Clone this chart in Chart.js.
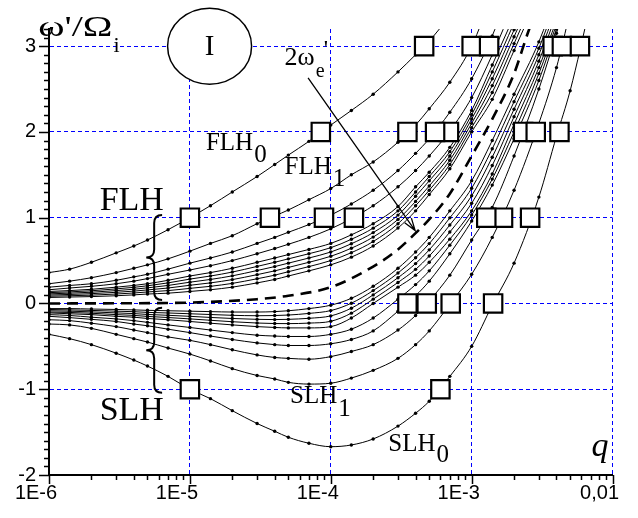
<!DOCTYPE html>
<html>
<head>
<meta charset="utf-8">
<script src="https://cdn.jsdelivr.net/npm/chart.js@4.4.1/dist/chart.umd.min.js"></script>
<style>
  html, body { margin: 0; padding: 0; background: #fff; }
  canvas { display: block; }
</style>
</head>
<body>
<canvas id="dispersionChart" width="638" height="518"></canvas>
<script>
// q values where every curve was sampled (dots on the curves)
const q = [1e-6, 1.4e-6, 2e-6, 3e-6, 4e-6, 5e-6, 7e-6,
           1e-5, 1.4e-5, 2e-5, 3e-5, 4e-5, 5e-5, 7e-5,
           1e-4, 1.4e-4, 2e-4, 3e-4, 4e-4, 5e-4, 7e-4,
           1e-3, 1.4e-3, 2e-3, 3e-3, 4e-3, 5e-3, 7e-3];

// fast lower hybrid branches
const flh0 = [0.36, 0.40, 0.48, 0.59, 0.67, 0.74, 0.86, 1.00, 1.14, 1.30, 1.48, 1.62, 1.73, 1.89, 2.08, 2.25, 2.44, 2.70, 2.90, 3.06, 3.35];
const flh1 = [0.23, 0.26, 0.30, 0.36, 0.41, 0.45, 0.52, 0.61, 0.70, 0.79, 0.93, 1.02, 1.09, 1.21, 1.34, 1.50, 1.65, 1.88, 2.08, 2.27, 2.58, 3.00, 3.60];
const flh2 = [0.19, 0.21, 0.23, 0.27, 0.31, 0.34, 0.40, 0.47, 0.53, 0.60, 0.70, 0.77, 0.83, 0.92, 1.03, 1.16, 1.32, 1.55, 1.75, 1.92, 2.23, 2.62, 3.12, 3.80];
const flh3 = [0.16, 0.18, 0.20, 0.23, 0.26, 0.29, 0.34, 0.39, 0.44, 0.50, 0.58, 0.64, 0.69, 0.77, 0.87, 0.99, 1.14, 1.36, 1.55, 1.72, 2.01, 2.40, 2.90, 3.50];
const flh4 = [0.14, 0.15, 0.165, 0.19, 0.21, 0.23, 0.27, 0.32, 0.36, 0.41, 0.48, 0.53, 0.57, 0.63, 0.70, 0.80, 0.93, 1.13, 1.36, 1.53, 1.82, 2.25, 2.78, 3.35, 4.00];
const flh5 = [0.126, 0.135, 0.148, 0.17, 0.188, 0.206, 0.24, 0.284, 0.32, 0.366, 0.432, 0.48, 0.52, 0.58, 0.65, 0.748, 0.878, 1.08, 1.30, 1.48, 1.77, 2.20, 2.70, 3.27, 3.92];
const flh6 = [0.112, 0.12, 0.131, 0.15, 0.166, 0.182, 0.21, 0.248, 0.28, 0.322, 0.384, 0.43, 0.47, 0.53, 0.60, 0.696, 0.826, 1.03, 1.25, 1.43, 1.72, 2.15, 2.62, 3.19, 3.84];
const flh7 = [0.098, 0.105, 0.114, 0.13, 0.144, 0.158, 0.18, 0.212, 0.24, 0.278, 0.336, 0.38, 0.42, 0.48, 0.55, 0.644, 0.774, 0.98, 1.19, 1.37, 1.67, 2.10, 2.54, 3.11, 3.76];
const flh8 = [0.084, 0.09, 0.097, 0.11, 0.122, 0.134, 0.15, 0.176, 0.20, 0.234, 0.288, 0.33, 0.37, 0.43, 0.50, 0.592, 0.722, 0.93, 1.14, 1.32, 1.62, 2.05, 2.46, 3.03, 3.68];
const flh9 = [0.07, 0.075, 0.08, 0.09, 0.10, 0.11, 0.12, 0.14, 0.16, 0.19, 0.24, 0.28, 0.32, 0.38, 0.45, 0.54, 0.67, 0.88, 1.08, 1.27, 1.57, 2.00, 2.38, 2.95, 3.60];

// slow lower hybrid branches
const slh0 = [-0.36, -0.41, -0.48, -0.58, -0.66, -0.73, -0.85, -1.00, -1.11, -1.25, -1.40, -1.49, -1.56, -1.63, -1.67, -1.65, -1.58, -1.43, -1.28, -1.14, -0.85, -0.50, -0.02, 0.47, 1.24, 1.95, 2.48, 3.50];
const slh1 = [-0.24, -0.25, -0.29, -0.36, -0.41, -0.45, -0.52, -0.59, -0.67, -0.76, -0.84, -0.88, -0.92, -0.94, -0.93, -0.87, -0.78, -0.64, -0.48, -0.32, -0.01, 0.34, 0.77, 1.32, 2.10, 2.75, 3.40];
const slh2 = [-0.19, -0.20, -0.23, -0.27, -0.31, -0.34, -0.39, -0.43, -0.48, -0.54, -0.60, -0.63, -0.64, -0.65, -0.62, -0.56, -0.48, -0.31, -0.14, 0.03, 0.33, 0.74, 1.12, 1.72, 2.50, 3.15, 3.70];
const slh3 = [-0.15, -0.165, -0.185, -0.21, -0.24, -0.26, -0.30, -0.34, -0.38, -0.42, -0.46, -0.48, -0.49, -0.49, -0.47, -0.42, -0.32, -0.09, 0.09, 0.26, 0.58, 0.96, 1.38, 1.92, 2.60, 3.20];
const slh4 = [-0.13, -0.14, -0.16, -0.18, -0.20, -0.22, -0.25, -0.28, -0.31, -0.34, -0.37, -0.38, -0.385, -0.385, -0.36, -0.30, -0.17, 0.05, 0.22, 0.38, 0.68, 1.03, 1.45, 2.00, 2.68, 3.25];
const slh5 = [-0.11, -0.12, -0.13, -0.15, -0.16, -0.175, -0.19, -0.21, -0.23, -0.25, -0.27, -0.28, -0.285, -0.285, -0.27, -0.17, 0.00, 0.19, 0.33, 0.48, 0.75, 1.08, 1.51, 2.09, 2.75, 3.30];
const slh6 = [-0.10, -0.105, -0.114, -0.13, -0.139, -0.151, -0.164, -0.18, -0.196, -0.213, -0.228, -0.234, -0.235, -0.229, -0.208, -0.113, 0.05, 0.245, 0.398, 0.553, 0.833, 1.168, 1.608, 2.178, 2.825, 3.375];
const slh7 = [-0.085, -0.09, -0.098, -0.11, -0.118, -0.128, -0.138, -0.15, -0.163, -0.175, -0.185, -0.188, -0.185, -0.173, -0.145, -0.055, 0.10, 0.30, 0.465, 0.625, 0.915, 1.255, 1.705, 2.265, 2.90, 3.45];
const slh8 = [-0.07, -0.075, -0.081, -0.09, -0.096, -0.104, -0.111, -0.12, -0.129, -0.138, -0.143, -0.141, -0.135, -0.116, -0.083, 0.003, 0.15, 0.355, 0.533, 0.698, 0.998, 1.343, 1.803, 2.353, 2.975, 3.525];
const slh9 = [-0.06, -0.06, -0.065, -0.07, -0.075, -0.08, -0.085, -0.09, -0.095, -0.10, -0.10, -0.095, -0.085, -0.06, -0.02, 0.06, 0.20, 0.41, 0.60, 0.77, 1.08, 1.43, 1.90, 2.44, 3.05, 3.60];

// 2 omega_e' (dashed)
const qDash = [1e-6, 3e-6, 1e-5, 3e-5, 5e-5, 1e-4, 2e-4, 3e-4, 4e-4, 5e-4, 7e-4, 1e-3, 1.4e-3, 2e-3, 2.5e-3, 3e-3];
const yDash = [0, 0.002, 0.01, 0.05, 0.09, 0.19, 0.43, 0.63, 0.82, 0.98, 1.28, 1.72, 2.15, 2.68, 3.15, 3.5];

// integer crossings marked with squares
const squareQ = [4.6e-4, 1.0e-3, 1.33e-3, 3.76e-3, 4.37e-3, 5.87e-3,
                 8.5e-5, 3.5e-4, 6.9e-4, 5.5e-4, 2.32e-3, 2.85e-3, 4.2e-3,
                 1e-5, 3.7e-5, 8.95e-5, 1.46e-4, 1.67e-3, 1.27e-3, 2.6e-3,
                 3.5e-4, 4.8e-4, 7.1e-4, 1.42e-3,
                 1e-5, 6.0e-4];
const squareY = [3, 3, 3, 3, 3, 3,
                 2, 2, 2, 2, 2, 2, 2,
                 1, 1, 1, 1, 1, 1, 1,
                 0, 0, 0, 0,
                 -1, -1];

const xTickValues = [1e-6, 1e-5, 1e-4, 1e-3, 1e-2];
const xTickLabels = ['1E-6', '1E-5', '1E-4', '1E-3', '0,01'];
const yTickValues = [-2, -1, 0, 1, 2, 3];
const yTickLabels = ['-2', '-1', '0', '1', '2', '3'];

const serif = '"Liberation Serif", "Times New Roman", serif';
const sans = '"Liberation Sans", Arial, sans-serif';

const toPoints = (xs, ys) => ys
  .map((y, i) => ({ x: xs[i], y: y }))
  .filter(p => p.y !== null && p.y !== undefined);

const curves = [flh0, flh1, flh2, flh3, flh4, flh5, flh6, flh7, flh8, flh9,
                slh0, slh1, slh2, slh3, slh4, slh5, slh6, slh7, slh8, slh9];

const datasets = [];
// squares first so they sit on top of the lines
datasets.push({
  data: toPoints(squareQ, squareY),
  showLine: false,
  pointStyle: 'rect',
  pointRadius: 13,
  pointBackgroundColor: '#fff',
  pointBorderColor: '#000',
  pointBorderWidth: 2.2
});
datasets.push({
  data: toPoints(qDash, yDash),
  showLine: true,
  borderColor: '#000',
  borderWidth: 2.6,
  borderDash: [11, 7],
  pointRadius: 0,
  cubicInterpolationMode: 'monotone'
});
curves.forEach(c => {
  datasets.push({
    data: toPoints(q, c),
    showLine: true,
    borderColor: '#000',
    borderWidth: 1,
    pointRadius: 1.7,
    pointBackgroundColor: '#000',
    pointBorderWidth: 0,
    cubicInterpolationMode: 'monotone'
  });
});

// minor / major tick marks pointing outwards
const axisTicks = {
  id: 'axisTicks',
  afterDraw(chart) {
    const { ctx, chartArea, scales: { x, y } } = chart;
    ctx.save();
    ctx.strokeStyle = '#000';
    ctx.lineWidth = 1.5;
    ctx.beginPath();
    for (let k = -20; k <= 32; k++) {
      const py = Math.round(y.getPixelForValue(k / 10)) + 0.5;
      const len = k % 10 === 0 ? 10 : 5;
      ctx.moveTo(chartArea.left, py);
      ctx.lineTo(chartArea.left - len, py);
    }
    for (let e = -6; e <= -2; e++) {
      for (let m = 1; m <= 9; m++) {
        const v = m * Math.pow(10, e);
        if (v > 1.0001e-2) break;
        const px = Math.round(x.getPixelForValue(v)) + 0.5;
        const len = m === 1 ? 9 : 5;
        ctx.moveTo(px, chartArea.bottom);
        ctx.lineTo(px, chartArea.bottom + len);
      }
    }
    ctx.stroke();
    ctx.restore();
  }
};

function label(ctx, x, y, main, sub, size, subDy, style) {
  ctx.font = (style || '') + ' ' + size + 'px ' + serif;
  ctx.textAlign = 'left';
  ctx.textBaseline = 'middle';
  ctx.fillText(main, x, y);
  if (sub) {
    const w = ctx.measureText(main).width;
    ctx.fillText(sub, x + w + 1, y + subDy);
  }
}

function brace(ctx, xTip, xEnd, yTop, yBot) {
  const xm = (xTip + xEnd) / 2;
  const ym = (yTop + yBot) / 2;
  const r = 8;
  ctx.beginPath();
  ctx.moveTo(xEnd, yTop);
  ctx.quadraticCurveTo(xm, yTop, xm, yTop + r);
  ctx.lineTo(xm, ym - r);
  ctx.quadraticCurveTo(xm, ym, xTip, ym);
  ctx.quadraticCurveTo(xm, ym, xm, ym + r);
  ctx.lineTo(xm, yBot - r);
  ctx.quadraticCurveTo(xm, yBot, xEnd, yBot);
  ctx.stroke();
}

const annotations = {
  id: 'annotations',
  afterDatasetsDraw(chart) {
    const { ctx, scales: { x, y } } = chart;
    const X = v => x.getPixelForValue(v);
    const Y = v => y.getPixelForValue(v);
    ctx.save();
    ctx.fillStyle = '#000';
    ctx.strokeStyle = '#000';

    // axis title, the original glyphs are wide so stretch it a little
    const tx = X(8.4e-7), ty = Y(3.215);
    ctx.save();
    ctx.translate(tx, ty);
    ctx.scale(1.33, 1);
    ctx.font = '30px ' + serif;
    ctx.textAlign = 'left';
    ctx.textBaseline = 'middle';
    ctx.fillText("ω'/Ω", 0, 0);
    const tw = ctx.measureText("ω'/Ω").width * 1.33;
    ctx.restore();
    ctx.font = '22px ' + serif;
    ctx.textBaseline = 'middle';
    ctx.fillText('i', tx + tw + 1, ty + 19);

    // case marker
    ctx.lineWidth = 1.5;
    ctx.beginPath();
    ctx.ellipse(X(1.38e-5), Y(3.0), 42, 38, 0, 0, Math.PI * 2);
    ctx.fillStyle = '#fff';
    ctx.fill();
    ctx.stroke();
    ctx.fillStyle = '#000';
    ctx.font = '29px ' + serif;
    ctx.textAlign = 'center';
    ctx.fillText('I', X(1.38e-5), Y(3.0) + 1);

    // 2 omega_e' label and arrow
    const lx = X(4.7e-5), ly = Y(2.86);
    label(ctx, lx, ly, '2ω', null, 26);
    ctx.font = '26px ' + serif;
    const w2 = ctx.measureText('2ω').width;
    ctx.font = '20px ' + serif;
    ctx.fillText('e', lx + w2 + 1, ly + 14);
    ctx.font = '24px ' + serif;
    ctx.fillText("'", lx + w2 + 9, ly - 8);

    const ax0 = X(6.9e-5), ay0 = Y(2.63), ax1 = X(3.97e-4), ay1 = Y(0.85);
    ctx.lineWidth = 1.3;
    ctx.beginPath();
    ctx.moveTo(ax0, ay0);
    ctx.lineTo(ax1, ay1);
    const ang = Math.atan2(ay1 - ay0, ax1 - ax0);
    const hl = 13;
    ctx.moveTo(ax1 - hl * Math.cos(ang - 0.32), ay1 - hl * Math.sin(ang - 0.32));
    ctx.lineTo(ax1, ay1);
    ctx.lineTo(ax1 - hl * Math.cos(ang + 0.32), ay1 - hl * Math.sin(ang + 0.32));
    ctx.stroke();

    // branch labels
    label(ctx, X(1.3e-5), Y(1.87), 'FLH', '0', 25, 12);
    label(ctx, X(4.7e-5), Y(1.585), 'FLH', '1', 25, 12);
    label(ctx, X(5.14e-5), Y(-1.08), 'SLH', '1', 25, 13);
    label(ctx, X(2.56e-4), Y(-1.64), 'SLH', '0', 25, 11);
    label(ctx, X(2.29e-6), Y(1.19), 'FLH', null, 34);
    label(ctx, X(2.29e-6), Y(-1.26), 'SLH', null, 34);
    label(ctx, X(7.1e-3), Y(-1.67), 'q', null, 34, 0, 'italic');

    // braces
    ctx.lineWidth = 2;
    brace(ctx, X(4.9e-6), X(6.35e-6), Y(1.03), Y(0.04));
    brace(ctx, X(4.9e-6), X(6.35e-6), Y(-0.05), Y(-1.04));
    ctx.restore();
  }
};

new Chart(document.getElementById('dispersionChart'), {
  type: 'scatter',
  data: { datasets: datasets },
  options: {
    responsive: false,
    animation: false,
    events: [],
    layout: { padding: { left: 0, top: 29, right: 21, bottom: 0 } },
    plugins: { legend: { display: false }, tooltip: { enabled: false } },
    scales: {
      x: {
        type: 'logarithmic',
        min: 1e-6,
        max: 1e-2,
        afterBuildTicks: s => { s.ticks = xTickValues.map(v => ({ value: v })); },
        afterFit: s => { s.height = 43; },
        ticks: {
          autoSkip: false,
          maxRotation: 0,
          padding: 6,
          labelOffset: -13,
          color: '#000',
          font: { family: sans, size: 20 },
          callback: v => {
            const i = xTickValues.findIndex(t => Math.abs(t - v) / t < 1e-6);
            return i >= 0 ? xTickLabels[i] : '';
          }
        },
        grid: { color: '#0000ff', lineWidth: 1, drawTicks: false },
        border: { color: '#000', width: 2, dash: [4, 3] }
      },
      y: {
        type: 'linear',
        min: -2,
        max: 3.2,
        afterBuildTicks: s => { s.ticks = yTickValues.map(v => ({ value: v })); },
        afterFit: s => { s.width = 49; },
        ticks: {
          padding: 13,
          color: '#000',
          font: { family: sans, size: 20 },
          callback: v => {
            const i = yTickValues.indexOf(v);
            return i >= 0 ? yTickLabels[i] : '';
          }
        },
        grid: { color: '#0000ff', lineWidth: 1, drawTicks: false },
        border: { color: '#000', width: 2, dash: [4, 3] }
      }
    }
  },
  plugins: [axisTicks, annotations]
});
</script>
</body>
</html>
